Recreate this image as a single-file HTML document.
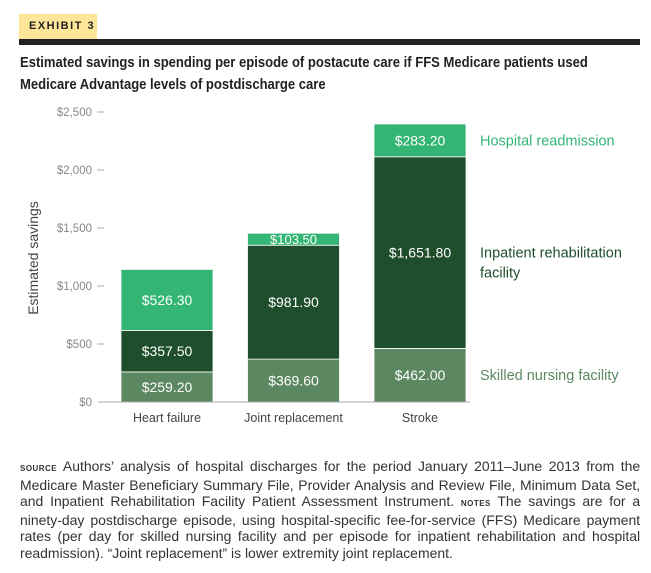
<!DOCTYPE html>
<html><head><meta charset="utf-8">
<style>
body{margin:0;width:651px;height:573px;background:#fff;position:relative;overflow:hidden;font-family:"Liberation Sans",sans-serif;}
#tag{position:absolute;left:19px;top:14px;width:78px;height:25px;background:#fde69a;font:bold 11px "Liberation Sans",sans-serif;letter-spacing:1.5px;line-height:25px;text-indent:10px;color:#222;}
#rule{position:absolute;left:19px;top:39px;width:621px;height:6px;background:#222;}
#title{position:absolute;left:20px;top:52px;width:689px;font:bold 14.5px/22px "Liberation Sans",sans-serif;color:#222;transform:scaleX(0.9);transform-origin:0 0;}
#notes{position:absolute;left:20px;top:458px;width:622px;font-size:14px;line-height:16.6px;color:#333;text-align:justify;transform:scaleX(0.997);transform-origin:0 0;}
.sc{font-weight:bold;font-variant:small-caps;font-size:11px;letter-spacing:.5px;text-transform:lowercase;}
svg{position:absolute;left:0;top:0;}
</style></head><body>
<div id="tag">EXHIBIT 3</div>
<div id="rule"></div>
<div id="title">Estimated savings in spending per episode of postacute care if FFS Medicare patients used Medicare Advantage levels of postdischarge care</div>
<svg id="chart" width="651" height="573"></svg>
<div id="notes"><span class="sc">SOURCE</span> Authors’ analysis of hospital discharges for the period January 2011–June 2013 from the Medicare Master Beneficiary Summary File, Provider Analysis and Review File, Minimum Data Set, and Inpatient Rehabilitation Facility Patient Assessment Instrument. <span class="sc">NOTES</span> The savings are for a ninety-day postdischarge episode, using hospital-specific fee-for-service (FFS) Medicare payment rates (per day for skilled nursing facility and per episode for inpatient rehabilitation and hospital readmission). “Joint replacement” is lower extremity joint replacement.</div>
<script>
const categories=["Heart failure","Joint replacement","Stroke"];
const snf=[259.2,369.6,462.0];
const irf=[357.5,981.9,1651.8];
const readm=[526.3,103.5,283.2];
const yTicks=[0,500,1000,1500,2000,2500];
const yTickLabels=["$0","$500","$1,000","$1,500","$2,000","$2,500"];
const seriesNames=["Skilled nursing facility","Inpatient rehabilitation facility","Hospital readmission"];

const NS="http://www.w3.org/2000/svg";
const svg=document.getElementById('chart');
const y0=402,yTop=112,yMax=2500;
const Y=v=>y0-(v/yMax)*(y0-yTop);
const barX=i=>121+i*126.5, barW=92;
const colors=["#5b8861","#1e4e2b","#33b573"];
function mk(t,a){const e=document.createElementNS(NS,t);for(const k in a)e.setAttribute(k,a[k]);svg.appendChild(e);return e;}
yTicks.forEach((v,i)=>{
  const t=mk('text',{x:92,y:Y(v)+4,'text-anchor':'end','font-size':11.5,fill:'#888','font-family':'Liberation Sans, sans-serif'});
  t.textContent=yTickLabels[i];
  
  
  if(v>0){const l=mk('line',{x1:97,x2:104,y1:Y(v),y2:Y(v),stroke:'#aaa'});
  
  }
});
const yt=mk('text',{transform:'translate(38,258) rotate(-90)','text-anchor':'middle','font-size':14,fill:'#444','font-family':'Liberation Sans, sans-serif'});
yt.textContent='Estimated savings';


const series=[snf,irf,readm];
categories.forEach((c,i)=>{
  let base=0;
  series.forEach((s,j)=>{
    const v=s[i];
    const r=mk('rect',{x:barX(i),y:Y(base+v),width:barW,height:Y(base)-Y(base+v),fill:colors[j],stroke:'#fff','stroke-width':0.8});
    
    
    const fs=v<150?13:14;
    const t=mk('text',{x:barX(i)+barW/2,y:(Y(base)+Y(base+v))/2+5,'text-anchor':'middle','font-size':fs,fill:'#fff','font-family':'Liberation Sans, sans-serif'});
    t.textContent='$'+v.toFixed(2).replace(/\B(?=(\d{3})+(?!\d))/g,',');
    
    
    base+=v;
  });
  const t=mk('text',{x:barX(i)+barW/2,y:422,'text-anchor':'middle','font-size':12.5,fill:'#444','font-family':'Liberation Sans, sans-serif'});
  t.textContent=c;
  
  
});
const ax=mk('line',{x1:98,x2:470,y1:y0,y2:y0,stroke:'#aaa'});


const last=categories.length-1;
let b=0;const mids=[];
series.forEach(s=>{mids.push((Y(b)+Y(b+s[last]))/2);b+=s[last];});
const legendLines=[["Skilled nursing facility"],["Inpatient rehabilitation","facility"],["Hospital readmission"]];
const legendCol=["#5b8861","#1e4e2b","#33b573"];
legendLines.forEach((ls,j)=>{
  ls.forEach((txt,k)=>{
    const t=mk('text',{x:480,y:mids[j]+5+k*20,'font-size':14.5,fill:legendCol[j],'font-family':'Liberation Sans, sans-serif'});
    t.textContent=txt;
    
    
  });
});
</script>
</body></html>
